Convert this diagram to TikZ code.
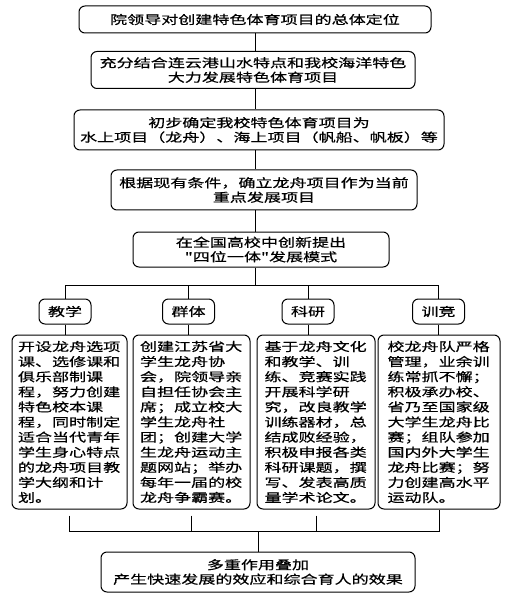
\documentclass[tikz,border=0pt]{standalone}
\usepackage{fontspec}
\newfontfamily\cjk{Noto Sans CJK SC}[FakeStretch=1.42, FakeBold=0.6]

\begin{document}
\begin{tikzpicture}[
    x=1pt, y=-1pt,
    box/.style={rectangle, draw, rounded corners=6pt, line width=1pt, inner sep=1pt, align=center, font=\cjk\fontsize{12}{14.5}\selectfont},
    tag/.style={box, minimum width=52pt, minimum height=25pt},
    detail/.style={box, align=left, text width=103pt, minimum height=174pt, font=\cjk\fontsize{12}{15.1}\selectfont},
    link/.style={line width=1pt}
]
\useasboundingbox (0,0) rectangle (504,612);

% Main chain
\node[box, minimum width=352pt, minimum height=27pt] (lead) at (255,19.5) {院领导对创建特色体育项目的总体定位};
\node[box, minimum width=324pt, minimum height=37pt] (combine) at (253,70) {充分结合连云港山水特点和我校海洋特色\\大力发展特色体育项目};
\node[box, minimum width=370pt, minimum height=40pt] (initial) at (259,130) {初步确定我校特色体育项目为\\水上项目（龙舟）、海上项目（帆船、帆板）等};
\node[box, minimum width=306pt, minimum height=40pt] (focus) at (264,190) {根据现有条件，确立龙舟项目作为当前\\重点发展项目};
\node[box, minimum width=256pt, minimum height=35pt] (model) at (261,249.5) {在全国高校中创新提出\\"四位一体"发展模式};

% Four parts
\node[tag] (jiaoxue) at (65,311.5) {教学};
\node[tag] (qunti) at (188.5,311.5) {群体};
\node[tag] (keyan) at (308,311.5) {科研};
\node[tag] (xunjing) at (438.5,311.5) {训竞};

% Details
\node[detail, minimum width=115pt] (jxbox) at (69.5,422) {开设龙舟选项\\课、选修课和\\俱乐部制课\\程，努力创建\\特色校本课\\程，同时制定\\适合当代青年\\学生身心特点\\的龙舟项目教\\学大纲和计\\划。};
\node[detail, minimum width=117pt] (qtbox) at (191.5,422) {创建江苏省大\\学生龙舟协\\会，院领导亲\\自担任协会主\\席；成立校大\\学生龙舟社\\团；创建大学\\生龙舟运动主\\题网站；举办\\每年一届的校\\龙舟争霸赛。};
\node[detail, minimum width=118pt] (kybox) at (316,422) {基于龙舟文化\\和教学、训\\练、竞赛实践\\开展科学研\\究，改良教学\\训练器材，总\\结成败经验，\\积极申报各类\\科研课题，撰\\写、发表高质\\量学术论文。};
\node[detail, minimum width=122pt] (xjbox) at (439,422) {校龙舟队严格\\管理，业余训\\练常抓不懈；\\积极承办校、\\省乃至国家级\\大学生龙舟比\\赛；组队参加\\国内外大学生\\龙舟比赛；努\\力创建高水平\\运动队。};

% Result
\node[box, minimum width=314pt, minimum height=40pt] (result) at (258,572) {多重作用叠加\\产生快速发展的效应和综合育人的效果};

% Connections
\coordinate (spine) at (255,0);
\coordinate (split) at (0,285);
\coordinate (merge) at (0,531);
\draw[link] (spine |- lead.south) -- (spine |- combine.north);
\draw[link] (spine |- combine.south) -- (spine |- initial.north);
\draw[link] (spine |- initial.south) -- (spine |- focus.north);
\draw[link] (spine |- focus.south) -- (spine |- model.north);
\draw[link] (spine |- model.south) -- (spine |- split);
\draw[link] (jiaoxue.north) -- (jiaoxue.north |- split) -- (xunjing.north |- split) -- (xunjing.north);
\draw[link] (qunti.north) -- (qunti.north |- split);
\draw[link] (keyan.north) -- (keyan.north |- split);

\draw[link] (jiaoxue) -- (jiaoxue.south |- jxbox.north);
\draw[link] (qunti) -- (qunti.south |- qtbox.north);
\draw[link] (keyan) -- (keyan.south |- kybox.north);
\draw[link] (xunjing) -- (xunjing.south |- xjbox.north);

\draw[link, shorten <=6pt] (jxbox.south) -- (jxbox.south |- merge) -- (xjbox.south |- merge) -- (xjbox.south);
\draw[link, shorten <=6pt] (qtbox.south) -- (qtbox.south |- merge);
\draw[link, shorten <=6pt] (kybox.south) -- (kybox.south |- merge);
\draw[link] (result.north |- merge) -- (result.north);

\end{tikzpicture}
\end{document}
